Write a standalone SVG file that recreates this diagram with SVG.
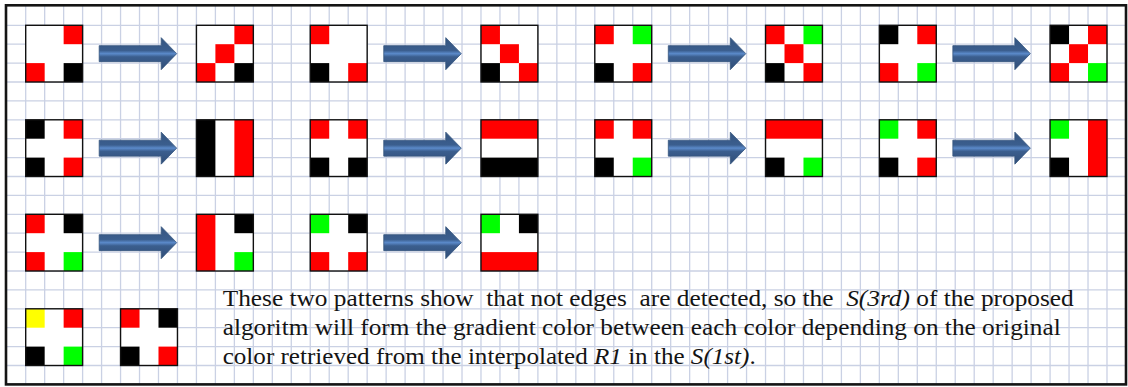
<svg xmlns="http://www.w3.org/2000/svg" width="1128" height="387" viewBox="0 0 1128 387">
  <style>
    .grid { fill: none; stroke: #cad1e4; stroke-width: 1.3; }
    .border { fill: none; stroke: #141414; stroke-width: 2.6; }
    .frame { fill: none; stroke: #111; stroke-width: 1.4; }
    .bg { fill: #ffffff; }
    .r { fill: #ff0000; }
    .g { fill: #00ff00; }
    .k { fill: #000000; }
    .y { fill: #ffff00; }
    .note { font-family: "Liberation Serif", "Times New Roman", serif; font-size: 23px; fill: #141414; white-space: pre; }
    .note .it { font-style: italic; }
  </style>
  <defs>
    <linearGradient id="arrowFill" x1="0" y1="0" x2="0" y2="1">
      <stop offset="0" stop-color="#34547f"/>
      <stop offset="0.4" stop-color="#3b5e8e"/>
      <stop offset="0.5" stop-color="#5b8aca"/>
      <stop offset="0.6" stop-color="#3b5e8e"/>
      <stop offset="1" stop-color="#304d77"/>
    </linearGradient>
    <!-- block arrow, origin at the left box's left edge / vertical centre -->
    <path id="arrow" d="M73.5,-8 H135.5 V-16 L151,0 L135.5,16 V8 H73.5 Z" fill="url(#arrowFill)" stroke="#35557f" stroke-width="0.8"/>
  </defs>

  <rect width="1128" height="387" fill="#ffffff"/>

  <!-- squared paper -->
  <path class="grid" d="
    M25.7,6V384.4 M44.67,6V384.4 M63.64,6V384.4 M82.61,6V384.4 M101.58,6V384.4 M120.55,6V384.4
    M139.52,6V384.4 M158.49,6V384.4 M177.46,6V384.4 M196.43,6V384.4 M215.4,6V384.4 M234.37,6V384.4
    M253.34,6V384.4 M272.31,6V384.4 M291.28,6V384.4 M310.25,6V384.4 M329.22,6V384.4 M348.19,6V384.4
    M367.16,6V384.4 M386.13,6V384.4 M405.1,6V384.4 M424.07,6V384.4 M443.04,6V384.4 M462.01,6V384.4
    M480.98,6V384.4 M499.95,6V384.4 M518.92,6V384.4 M537.89,6V384.4 M556.86,6V384.4 M575.83,6V384.4
    M594.8,6V384.4 M613.77,6V384.4 M632.74,6V384.4 M651.71,6V384.4 M670.68,6V384.4 M689.65,6V384.4
    M708.62,6V384.4 M727.59,6V384.4 M746.56,6V384.4 M765.53,6V384.4 M784.5,6V384.4 M803.47,6V384.4
    M822.44,6V384.4 M841.41,6V384.4 M860.38,6V384.4 M879.35,6V384.4 M898.32,6V384.4 M917.29,6V384.4
    M936.26,6V384.4 M955.23,6V384.4 M974.2,6V384.4 M993.17,6V384.4 M1012.14,6V384.4 M1031.11,6V384.4
    M1050.08,6V384.4 M1069.05,6V384.4 M1088.02,6V384.4 M1106.99,6V384.4
    M6,25.3H1126 M6,44.2H1126 M6,63.1H1126 M6,82H1126 M6,100.9H1126 M6,119.8H1126 M6,138.7H1126
    M6,157.6H1126 M6,176.5H1126 M6,195.4H1126 M6,214.3H1126 M6,233.2H1126 M6,252.1H1126 M6,271H1126
    M6,289.9H1126 M6,308.8H1126 M6,327.7H1126 M6,346.6H1126 M6,365.5H1126"/>
  <rect class="border" x="6" y="5.3" width="1120" height="379.1"/>

  <!-- connectors -->
  <g id="connectors">
    <use href="#arrow" x="25.7" y="53.65"/>
    <use href="#arrow" x="310.25" y="53.65"/>
    <use href="#arrow" x="594.8" y="53.65"/>
    <use href="#arrow" x="879.35" y="53.65"/>
    <use href="#arrow" x="25.7" y="148.15"/>
    <use href="#arrow" x="310.25" y="148.15"/>
    <use href="#arrow" x="594.8" y="148.15"/>
    <use href="#arrow" x="879.35" y="148.15"/>
    <use href="#arrow" x="25.7" y="242.65"/>
    <use href="#arrow" x="310.25" y="242.65"/>
  </g>

  <!-- 3x3 pixel patterns: cell columns at 0 / 18.97 / 37.94, rows at 0 / 18.9 / 37.8 -->
  <!-- row 1 -->
  <g id="p1a" transform="translate(25.7,25.3)">
    <rect class="bg" width="56.91" height="56.7"/>
    <rect class="r" x="37.94" y="0" width="18.97" height="18.9"/>
    <rect class="r" x="0" y="37.8" width="18.97" height="18.9"/>
    <rect class="k" x="37.94" y="37.8" width="18.97" height="18.9"/>
    <rect class="frame" width="56.91" height="56.7"/>
  </g>
  <g id="p1b" transform="translate(196.43,25.3)">
    <rect class="bg" width="56.91" height="56.7"/>
    <rect class="r" x="37.94" y="0" width="18.97" height="18.9"/>
    <rect class="r" x="18.97" y="18.9" width="18.97" height="18.9"/>
    <rect class="r" x="0" y="37.8" width="18.97" height="18.9"/>
    <rect class="k" x="37.94" y="37.8" width="18.97" height="18.9"/>
    <rect class="frame" width="56.91" height="56.7"/>
  </g>
  <g id="p2a" transform="translate(310.25,25.3)">
    <rect class="bg" width="56.91" height="56.7"/>
    <rect class="r" x="0" y="0" width="18.97" height="18.9"/>
    <rect class="k" x="0" y="37.8" width="18.97" height="18.9"/>
    <rect class="r" x="37.94" y="37.8" width="18.97" height="18.9"/>
    <rect class="frame" width="56.91" height="56.7"/>
  </g>
  <g id="p2b" transform="translate(480.98,25.3)">
    <rect class="bg" width="56.91" height="56.7"/>
    <rect class="r" x="0" y="0" width="18.97" height="18.9"/>
    <rect class="r" x="18.97" y="18.9" width="18.97" height="18.9"/>
    <rect class="k" x="0" y="37.8" width="18.97" height="18.9"/>
    <rect class="r" x="37.94" y="37.8" width="18.97" height="18.9"/>
    <rect class="frame" width="56.91" height="56.7"/>
  </g>
  <g id="p3a" transform="translate(594.8,25.3)">
    <rect class="bg" width="56.91" height="56.7"/>
    <rect class="r" x="0" y="0" width="18.97" height="18.9"/>
    <rect class="g" x="37.94" y="0" width="18.97" height="18.9"/>
    <rect class="k" x="0" y="37.8" width="18.97" height="18.9"/>
    <rect class="r" x="37.94" y="37.8" width="18.97" height="18.9"/>
    <rect class="frame" width="56.91" height="56.7"/>
  </g>
  <g id="p3b" transform="translate(765.53,25.3)">
    <rect class="bg" width="56.91" height="56.7"/>
    <rect class="r" x="0" y="0" width="18.97" height="18.9"/>
    <rect class="g" x="37.94" y="0" width="18.97" height="18.9"/>
    <rect class="r" x="18.97" y="18.9" width="18.97" height="18.9"/>
    <rect class="k" x="0" y="37.8" width="18.97" height="18.9"/>
    <rect class="r" x="37.94" y="37.8" width="18.97" height="18.9"/>
    <rect class="frame" width="56.91" height="56.7"/>
  </g>
  <g id="p4a" transform="translate(879.35,25.3)">
    <rect class="bg" width="56.91" height="56.7"/>
    <rect class="k" x="0" y="0" width="18.97" height="18.9"/>
    <rect class="r" x="37.94" y="0" width="18.97" height="18.9"/>
    <rect class="r" x="0" y="37.8" width="18.97" height="18.9"/>
    <rect class="g" x="37.94" y="37.8" width="18.97" height="18.9"/>
    <rect class="frame" width="56.91" height="56.7"/>
  </g>
  <g id="p4b" transform="translate(1050.08,25.3)">
    <rect class="bg" width="56.91" height="56.7"/>
    <rect class="k" x="0" y="0" width="18.97" height="18.9"/>
    <rect class="r" x="37.94" y="0" width="18.97" height="18.9"/>
    <rect class="r" x="18.97" y="18.9" width="18.97" height="18.9"/>
    <rect class="r" x="0" y="37.8" width="18.97" height="18.9"/>
    <rect class="g" x="37.94" y="37.8" width="18.97" height="18.9"/>
    <rect class="frame" width="56.91" height="56.7"/>
  </g>

  <!-- row 2 -->
  <g id="p5a" transform="translate(25.7,119.8)">
    <rect class="bg" width="56.91" height="56.7"/>
    <rect class="k" x="0" y="0" width="18.97" height="18.9"/>
    <rect class="r" x="37.94" y="0" width="18.97" height="18.9"/>
    <rect class="k" x="0" y="37.8" width="18.97" height="18.9"/>
    <rect class="r" x="37.94" y="37.8" width="18.97" height="18.9"/>
    <rect class="frame" width="56.91" height="56.7"/>
  </g>
  <g id="p5b" transform="translate(196.43,119.8)">
    <rect class="bg" width="56.91" height="56.7"/>
    <rect class="k" x="0" y="0" width="18.97" height="56.7"/>
    <rect class="r" x="37.94" y="0" width="18.97" height="56.7"/>
    <rect class="frame" width="56.91" height="56.7"/>
  </g>
  <g id="p6a" transform="translate(310.25,119.8)">
    <rect class="bg" width="56.91" height="56.7"/>
    <rect class="r" x="0" y="0" width="18.97" height="18.9"/>
    <rect class="r" x="37.94" y="0" width="18.97" height="18.9"/>
    <rect class="k" x="0" y="37.8" width="18.97" height="18.9"/>
    <rect class="k" x="37.94" y="37.8" width="18.97" height="18.9"/>
    <rect class="frame" width="56.91" height="56.7"/>
  </g>
  <g id="p6b" transform="translate(480.98,119.8)">
    <rect class="bg" width="56.91" height="56.7"/>
    <rect class="r" x="0" y="0" width="56.91" height="18.9"/>
    <rect class="k" x="0" y="37.8" width="56.91" height="18.9"/>
    <rect class="frame" width="56.91" height="56.7"/>
  </g>
  <g id="p7a" transform="translate(594.8,119.8)">
    <rect class="bg" width="56.91" height="56.7"/>
    <rect class="r" x="0" y="0" width="18.97" height="18.9"/>
    <rect class="r" x="37.94" y="0" width="18.97" height="18.9"/>
    <rect class="k" x="0" y="37.8" width="18.97" height="18.9"/>
    <rect class="g" x="37.94" y="37.8" width="18.97" height="18.9"/>
    <rect class="frame" width="56.91" height="56.7"/>
  </g>
  <g id="p7b" transform="translate(765.53,119.8)">
    <rect class="bg" width="56.91" height="56.7"/>
    <rect class="r" x="0" y="0" width="56.91" height="18.9"/>
    <rect class="k" x="0" y="37.8" width="18.97" height="18.9"/>
    <rect class="g" x="37.94" y="37.8" width="18.97" height="18.9"/>
    <rect class="frame" width="56.91" height="56.7"/>
  </g>
  <g id="p8a" transform="translate(879.35,119.8)">
    <rect class="bg" width="56.91" height="56.7"/>
    <rect class="g" x="0" y="0" width="18.97" height="18.9"/>
    <rect class="r" x="37.94" y="0" width="18.97" height="18.9"/>
    <rect class="k" x="0" y="37.8" width="18.97" height="18.9"/>
    <rect class="r" x="37.94" y="37.8" width="18.97" height="18.9"/>
    <rect class="frame" width="56.91" height="56.7"/>
  </g>
  <g id="p8b" transform="translate(1050.08,119.8)">
    <rect class="bg" width="56.91" height="56.7"/>
    <rect class="g" x="0" y="0" width="18.97" height="18.9"/>
    <rect class="r" x="37.94" y="0" width="18.97" height="56.7"/>
    <rect class="k" x="0" y="37.8" width="18.97" height="18.9"/>
    <rect class="frame" width="56.91" height="56.7"/>
  </g>

  <!-- row 3 -->
  <g id="p9a" transform="translate(25.7,214.3)">
    <rect class="bg" width="56.91" height="56.7"/>
    <rect class="r" x="0" y="0" width="18.97" height="18.9"/>
    <rect class="k" x="37.94" y="0" width="18.97" height="18.9"/>
    <rect class="r" x="0" y="37.8" width="18.97" height="18.9"/>
    <rect class="g" x="37.94" y="37.8" width="18.97" height="18.9"/>
    <rect class="frame" width="56.91" height="56.7"/>
  </g>
  <g id="p9b" transform="translate(196.43,214.3)">
    <rect class="bg" width="56.91" height="56.7"/>
    <rect class="r" x="0" y="0" width="18.97" height="56.7"/>
    <rect class="k" x="37.94" y="0" width="18.97" height="18.9"/>
    <rect class="g" x="37.94" y="37.8" width="18.97" height="18.9"/>
    <rect class="frame" width="56.91" height="56.7"/>
  </g>
  <g id="p10a" transform="translate(310.25,214.3)">
    <rect class="bg" width="56.91" height="56.7"/>
    <rect class="g" x="0" y="0" width="18.97" height="18.9"/>
    <rect class="k" x="37.94" y="0" width="18.97" height="18.9"/>
    <rect class="r" x="0" y="37.8" width="18.97" height="18.9"/>
    <rect class="r" x="37.94" y="37.8" width="18.97" height="18.9"/>
    <rect class="frame" width="56.91" height="56.7"/>
  </g>
  <g id="p10b" transform="translate(480.98,214.3)">
    <rect class="bg" width="56.91" height="56.7"/>
    <rect class="g" x="0" y="0" width="18.97" height="18.9"/>
    <rect class="k" x="37.94" y="0" width="18.97" height="18.9"/>
    <rect class="r" x="0" y="37.8" width="56.91" height="18.9"/>
    <rect class="frame" width="56.91" height="56.7"/>
  </g>

  <!-- row 4: patterns without edges -->
  <g id="p11" transform="translate(25.7,308.8)">
    <rect class="bg" width="56.91" height="56.7"/>
    <rect class="y" x="0" y="0" width="18.97" height="18.9"/>
    <rect class="r" x="37.94" y="0" width="18.97" height="18.9"/>
    <rect class="k" x="0" y="37.8" width="18.97" height="18.9"/>
    <rect class="g" x="37.94" y="37.8" width="18.97" height="18.9"/>
    <rect class="frame" width="56.91" height="56.7"/>
  </g>
  <g id="p12" transform="translate(120.55,308.8)">
    <rect class="bg" width="56.91" height="56.7"/>
    <rect class="r" x="0" y="0" width="18.97" height="18.9"/>
    <rect class="k" x="37.94" y="0" width="18.97" height="18.9"/>
    <rect class="k" x="0" y="37.8" width="18.97" height="18.9"/>
    <rect class="r" x="37.94" y="37.8" width="18.97" height="18.9"/>
    <rect class="frame" width="56.91" height="56.7"/>
  </g>

  <!-- explanatory note -->
  <g id="note" class="note">
    <text xml:space="preserve" x="222.7" y="306.3" textLength="851" lengthAdjust="spacingAndGlyphs">These two patterns show  that not edges  are detected, so the  <tspan class="it">S(3rd)</tspan> of the proposed</text>
    <text xml:space="preserve" x="222.7" y="335.3" textLength="838" lengthAdjust="spacingAndGlyphs">algoritm will form the gradient color between each color depending on the original</text>
    <text xml:space="preserve" x="222.7" y="364.3" textLength="533" lengthAdjust="spacingAndGlyphs">color retrieved from the interpolated <tspan class="it">R1</tspan> in the <tspan class="it">S(1st)</tspan>.</text>
  </g>
</svg>
